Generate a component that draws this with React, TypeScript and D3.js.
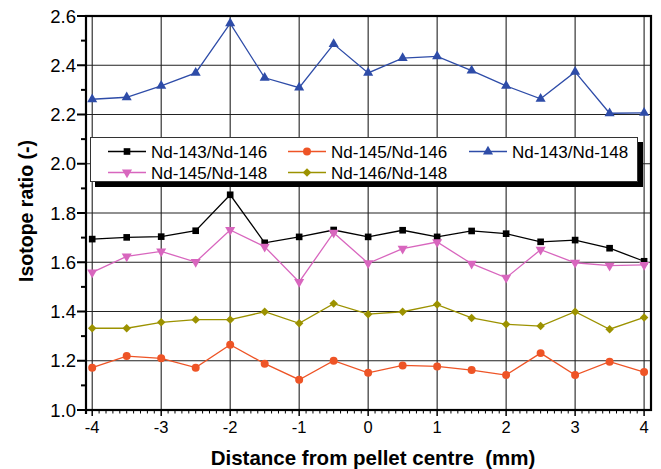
import React, { useEffect, useRef } from "react";
import * as d3 from "d3";

// distance from pellet centre (mm)
const distances = [-4, -3.5, -3, -2.5, -2, -1.5, -1, -0.5, 0, 0.5, 1, 1.5, 2, 2.5, 3, 3.5, 4];

const nd143_146 = [1.694, 1.701, 1.704, 1.728, 1.874, 1.679, 1.703, 1.731, 1.703, 1.730, 1.703, 1.727, 1.716, 1.683, 1.690, 1.657, 1.604];
const nd145_146 = [1.172, 1.219, 1.210, 1.172, 1.265, 1.188, 1.123, 1.200, 1.151, 1.181, 1.177, 1.162, 1.142, 1.231, 1.142, 1.196, 1.154];
const nd143_148 = [2.262, 2.270, 2.316, 2.369, 2.570, 2.349, 2.309, 2.486, 2.369, 2.429, 2.436, 2.378, 2.316, 2.264, 2.373, 2.205, 2.207];
const nd145_148 = [1.559, 1.624, 1.644, 1.601, 1.731, 1.663, 1.520, 1.720, 1.596, 1.655, 1.682, 1.594, 1.537, 1.651, 1.598, 1.586, 1.589];
const nd146_148 = [1.332, 1.332, 1.356, 1.367, 1.367, 1.399, 1.352, 1.432, 1.389, 1.399, 1.428, 1.374, 1.348, 1.341, 1.399, 1.328, 1.376];

const xTicks = [-4, -3, -2, -1, 0, 1, 2, 3, 4];
const yTicks = [1.0, 1.2, 1.4, 1.6, 1.8, 2.0, 2.2, 2.4, 2.6];

const series = [
  { name: "Nd-143/Nd-146", values: nd143_146, color: "#000000", symbol: d3.symbolSquare, size: 44, rotate: 0 },
  { name: "Nd-145/Nd-146", values: nd145_146, color: "#EE5426", symbol: d3.symbolCircle, size: 50, rotate: 0 },
  { name: "Nd-143/Nd-148", values: nd143_148, color: "#2E4CA8", symbol: d3.symbolTriangle, size: 44, rotate: 0 },
  { name: "Nd-145/Nd-148", values: nd145_148, color: "#D866BE", symbol: d3.symbolTriangle, size: 44, rotate: 180 },
  { name: "Nd-146/Nd-148", values: nd146_148, color: "#9C9200", symbol: d3.symbolSquare, size: 36, rotate: 45 },
];

const FONT = "'Liberation Sans', Arial, sans-serif";

const App = () => {
  const ref = useRef<SVGSVGElement>(null);

  useEffect(() => {
    const svg = d3.select(ref.current);
    svg.selectAll("*").remove();

    const left = 86, right = 651, top = 16, bottom = 410;

    const x = d3.scaleLinear().domain([-4.09, 4.1]).range([left, right]);
    const y = d3.scaleLinear().domain([1.0, 2.6]).range([bottom, top]);

    // grid
    const grid = svg.append("g").attr("stroke", "#222").attr("stroke-width", 1.1);
    grid.selectAll("line.gx")
      .data(xTicks)
      .join("line")
      .attr("x1", (d) => x(d)).attr("x2", (d) => x(d))
      .attr("y1", top).attr("y2", bottom);
    grid.selectAll("line.gy")
      .data(yTicks.slice(1, -1))
      .join("line")
      .attr("x1", left).attr("x2", right)
      .attr("y1", (d) => y(d)).attr("y2", (d) => y(d));

    // y ticks (outward)
    const yMinor = d3.range(1.1, 2.6, 0.2);
    svg.append("g").selectAll("line")
      .data(yTicks)
      .join("line")
      .attr("x1", left - 9).attr("x2", left)
      .attr("y1", (d) => y(d)).attr("y2", (d) => y(d))
      .attr("stroke", "#000").attr("stroke-width", 2);
    svg.append("g").selectAll("line")
      .data(yMinor)
      .join("line")
      .attr("x1", left - 5).attr("x2", left)
      .attr("y1", (d) => y(d)).attr("y2", (d) => y(d))
      .attr("stroke", "#000").attr("stroke-width", 2);

    // x ticks (downward)
    const xMinor = d3.range(-40, 41).filter((i) => i % 10 !== 0).map((i) => i / 10);
    svg.append("g").selectAll("line")
      .data(xTicks)
      .join("line")
      .attr("x1", (d) => x(d)).attr("x2", (d) => x(d))
      .attr("y1", bottom).attr("y2", bottom + 6)
      .attr("stroke", "#000").attr("stroke-width", 1.5);
    svg.append("g").selectAll("line")
      .data(xMinor)
      .join("line")
      .attr("x1", (d) => x(d)).attr("x2", (d) => x(d))
      .attr("y1", bottom).attr("y2", bottom + 3.5)
      .attr("stroke", "#000").attr("stroke-width", 1);

    // frame
    svg.append("rect")
      .attr("x", left).attr("y", top)
      .attr("width", right - left).attr("height", bottom - top)
      .attr("fill", "none").attr("stroke", "#000").attr("stroke-width", 2.2);
    svg.append("line")
      .attr("x1", left).attr("x2", left)
      .attr("y1", bottom).attr("y2", bottom + 4)
      .attr("stroke", "#000").attr("stroke-width", 2.2);

    // tick labels
    svg.append("g").selectAll("text")
      .data(yTicks)
      .join("text")
      .attr("x", left - 10)
      .attr("y", (d) => y(d))
      .attr("dy", "0.36em")
      .attr("text-anchor", "end")
      .style("font-family", FONT)
      .style("font-size", "18.5px")
      .text((d) => d.toFixed(1));
    svg.append("g").selectAll("text")
      .data(xTicks)
      .join("text")
      .attr("x", (d) => x(d))
      .attr("y", 433)
      .attr("text-anchor", "middle")
      .style("font-family", FONT)
      .style("font-size", "16.5px")
      .text((d) => String(d));

    // axis titles
    svg.append("text")
      .attr("transform", "translate(33,211) rotate(-90)")
      .attr("text-anchor", "middle")
      .style("font-family", FONT)
      .style("font-size", "19.5px")
      .style("font-weight", "bold")
      .text("Isotope ratio (-)");
    svg.append("text")
      .attr("x", 373)
      .attr("y", 465)
      .attr("text-anchor", "middle")
      .style("font-family", FONT)
      .style("font-size", "20.5px")
      .style("font-weight", "bold")
      .style("white-space", "pre")
      .text("Distance from pellet centre  (mm)");

    // series
    const line = d3.line<number>()
      .x((d, i) => x(distances[i]))
      .y((d) => y(d));

    series.forEach((s) => {
      svg.append("path")
        .datum(s.values)
        .attr("fill", "none")
        .attr("stroke", s.color)
        .attr("stroke-width", 1.3)
        .attr("d", line);
      svg.append("g").selectAll("path")
        .data(s.values)
        .join("path")
        .attr("d", d3.symbol(s.symbol, s.size)())
        .attr("transform", (d, i) => `translate(${x(distances[i])},${y(d)}) rotate(${s.rotate})`)
        .attr("fill", s.color);
    });

    // legend
    const lg = svg.append("g");
    lg.append("rect")
      .attr("x", 95).attr("y", 142).attr("width", 548).attr("height", 45)
      .attr("fill", "#000");
    lg.append("rect")
      .attr("x", 90.5).attr("y", 137.5).attr("width", 547).attr("height", 44)
      .attr("fill", "#fff").attr("stroke", "#333").attr("stroke-width", 1);

    const cols = [108, 288, 469];
    const rows = [151.5, 172.5];
    series.forEach((s, i) => {
      const cx = cols[i % 3];
      const cy = rows[Math.floor(i / 3)];
      lg.append("line")
        .attr("x1", cx).attr("x2", cx + 38)
        .attr("y1", cy).attr("y2", cy)
        .attr("stroke", s.color).attr("stroke-width", 1.3);
      lg.append("path")
        .attr("d", d3.symbol(s.symbol, s.size)())
        .attr("transform", `translate(${cx + 19},${cy}) rotate(${s.rotate})`)
        .attr("fill", s.color);
      lg.append("text")
        .attr("x", cx + 43)
        .attr("y", cy)
        .attr("dy", "0.36em")
        .style("font-family", FONT)
        .style("font-size", "17px")
        .text(s.name);
    });
  }, []);

  return (
    <svg
      ref={ref}
      width={661}
      height={469}
      style={{ position: "absolute", left: 0, top: 0, background: "#fff" }}
    />
  );
};

export default App;
